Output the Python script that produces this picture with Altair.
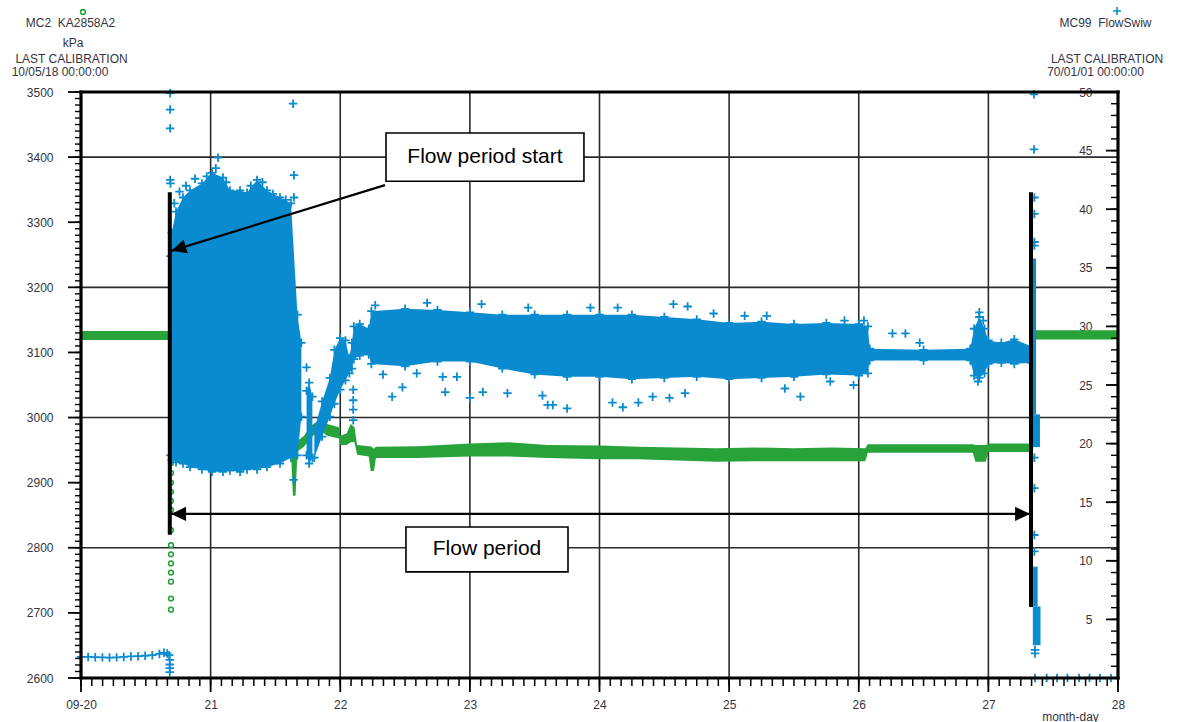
import math
import altair as alt
import pandas as pd

# ---- canvas & plot frame (pixels) ---------------------------------------------
CW, CH = 1178, 722
LEFT, TOP, RIGHT, BOTTOM = 81, 92, 1118, 678

DAY_RANGE = [20, 28]
KPA_RANGE = [2600, 3500]
FLOW_RANGE = [0, 50]

BLUE = "#0a8bd0"
GREEN = "#27a33a"
INK = "#34343f"
GRID = "#2b2b2b"
FONT = "Liberation Sans"

PLUS = "M-1,0L1,0M0,-1L0,1"
HEAD = "M0,0L-2,-0.95L-2,0.95Z"

# data units per pixel, for tick lengths and line thickness
DAY_PX = (DAY_RANGE[1] - DAY_RANGE[0]) / (RIGHT - LEFT)
KPA_PX = (KPA_RANGE[1] - KPA_RANGE[0]) / (BOTTOM - TOP)
# flow axis shares the vertical extent of the kPa axis
KPA_PER_FLOW = (KPA_RANGE[1] - KPA_RANGE[0]) / (FLOW_RANGE[1] - FLOW_RANGE[0])

# ---- axis tick / grid values ----------------------------------------------
day_ticks = list(range(20, 29))
day_minor = [20 + i / 12 for i in range(8 * 12 + 1)]
kpa_ticks = list(range(2600, 3501, 100))
kpa_minor = list(range(2600, 3501, 10))
flow_ticks = list(range(0, 51, 5))
flow_minor = list(range(0, 51, 1))
grid_days = [21, 22, 23, 24, 25, 26, 27]
grid_kpa = [2800, 3000, 3200, 3400]

# ---- KA2858A2 pressure (kPa): band envelope --------------------------------
green_seg = ["pre", "pre",
             "mid", "mid", "mid", "mid", "mid", "mid", "mid", "mid", "mid", "mid",
             "mid", "mid", "mid", "mid", "mid", "mid", "mid", "mid", "mid", "mid",
             "mid", "mid", "mid", "mid", "mid", "mid", "mid", "mid", "mid", "mid",
             "mid", "mid", "mid", "mid", "mid", "mid", "mid", "mid", "mid", "mid",
             "mid", "mid",
             "post", "post"]
green_day = [20.0, 20.685,
             20.690, 20.750, 20.800, 21.000, 21.300, 21.500, 21.620, 21.635, 21.655, 21.670,
             21.720, 21.780, 21.840, 21.900, 21.990, 22.000, 22.050, 22.080, 22.110, 22.130,
             22.220, 22.235, 22.260, 22.275, 22.600, 23.000, 23.300, 23.600, 24.000, 24.300,
             24.600, 24.900, 25.200, 25.500, 25.800, 26.050, 26.070, 26.880, 26.900, 26.980,
             27.000, 27.340,
             27.345, 28.0]
green_lo = [3119, 3119,
            2935, 2938, 2938, 2938, 2940, 2948, 2946, 2880, 2880, 2948,
            2955, 2970, 2980, 2972, 2968, 2958, 2958, 2962, 2962, 2943,
            2940, 2918, 2918, 2938, 2938, 2940, 2940, 2938, 2936, 2936,
            2934, 2932, 2933, 2933, 2933, 2933, 2946, 2946, 2932, 2932,
            2947, 2947,
            3120, 3120]
green_hi = [3133, 3133,
            2975, 2962, 2955, 2953, 2956, 2968, 2966, 2960, 2960, 2964,
            2972, 2988, 2997, 2990, 2985, 2972, 2976, 2990, 2985, 2958,
            2956, 2956, 2952, 2955, 2956, 2960, 2962, 2958, 2957, 2955,
            2954, 2953, 2954, 2953, 2954, 2953, 2959, 2959, 2958, 2958,
            2960, 2960,
            3134, 3134]

# pressure drop samples logged as the flow period starts
drop_day = [20.694] * 14
drop_kpa = [2705, 2722, 2748, 2762, 2776, 2790, 2804, 2827, 2858, 2872, 2886, 2900, 2915, 2930]

# ---- FlowSwiw flow: dense band envelope -------------------------------------
blue_seg = (["blob"] * 17 + ["col"] * 3 + ["band"] * 38)
blue_day = [20.690, 20.700, 20.733, 20.787, 20.841, 20.933, 21.011, 21.095, 21.149, 21.227,
            21.281, 21.358, 21.435, 21.535, 21.620, 21.670, 21.700,
            21.740, 21.760, 21.785,
            21.800, 21.860, 21.920, 21.955, 22.000, 22.040, 22.070, 22.090, 22.105, 22.150,
            22.220, 22.240, 22.500, 22.750, 23.000, 23.250, 23.500, 23.750, 24.000, 24.250,
            24.500, 24.750, 25.000, 25.250, 25.500, 25.750, 26.000, 26.070, 26.085, 26.500,
            26.860, 26.890, 26.930, 26.970, 27.000, 27.100, 27.200, 27.330]
blue_lo = [19.0, 18.6, 18.4, 18.3, 18.0, 17.8, 17.6, 17.6, 17.7, 17.6,
           17.8, 17.8, 18.0, 18.3, 18.8, 19.0, 22.3,
           19.0, 18.3, 18.8,
           18.8, 20.6, 22.3, 23.4, 24.6, 25.4, 26.0, 26.4, 27.2, 27.5,
           27.6, 26.8, 26.6, 27.0, 27.0, 26.4, 25.9, 25.7, 25.7, 25.5,
           25.6, 25.7, 25.5, 25.6, 25.7, 25.9, 25.8, 26.0, 27.1, 27.1,
           27.1, 25.8, 25.6, 26.0, 26.8, 26.9, 26.8, 26.9]
blue_hi = [36.0, 38.0, 39.8, 41.0, 41.6, 42.2, 43.1, 42.7, 41.6, 41.6,
           41.4, 42.5, 41.6, 41.0, 40.5, 31.0, 28.6,
           24.5, 25.2, 24.0,
           21.2, 23.6, 25.6, 28.0, 29.0, 28.8, 27.3, 28.6, 30.0, 30.2,
           29.8, 31.3, 31.5, 31.4, 31.2, 31.0, 31.0, 31.0, 31.0, 31.0,
           30.8, 30.6, 30.3, 30.4, 30.2, 30.3, 30.2, 30.0, 28.1, 28.0,
           28.1, 29.8, 30.8, 29.8, 28.8, 28.6, 28.9, 28.3]

# dense column when the flow is stopped: day from/to, flow from/to
stop_d0 = [27.343, 27.343, 27.345, 27.343]
stop_d1 = [27.368, 27.398, 27.380, 27.402]
stop_f0 = [22.5, 19.7, 6.1, 2.8]
stop_f1 = [35.8, 22.5, 9.5, 6.1]

# individual flow samples
pre_day = [20.000, 20.055, 20.110, 20.165, 20.220, 20.275, 20.330, 20.385, 20.440, 20.495,
           20.550, 20.605, 20.640, 20.665, 20.680, 20.685, 20.685, 20.685, 20.685]
pre_flow = [1.80, 1.80, 1.78, 1.76, 1.74, 1.76, 1.80, 1.84, 1.86, 1.90,
            1.95, 2.05, 2.15, 2.10, 1.95, 1.55, 1.15, 0.85, 0.50]

# samples scattered along the top of the start-up burst
burst_day = [20.720, 20.760, 20.810, 20.880, 20.970, 21.040, 21.120, 21.190, 21.310, 21.400,
             21.480, 21.580]
burst_flow = [40.5, 41.5, 42.0, 42.6, 42.8, 43.5, 42.3, 41.2, 42.0, 42.3,
              41.3, 40.8]

scatter_day = [20.688, 20.688, 20.688, 20.688, 20.690, 21.057, 21.636, 21.643, 21.643,
               21.640, 21.640, 21.740, 22.100, 22.100, 22.100, 22.100,
               22.33, 22.40, 22.48, 22.59, 22.79, 22.81, 22.90, 23.00, 23.10, 23.29,
               23.56, 23.60, 23.64, 23.75, 24.10, 24.18, 24.30, 24.41, 24.54, 24.66,
               25.43, 25.55, 25.78, 25.96,
               22.27, 22.67, 23.09, 23.45, 23.93, 24.14, 24.57, 24.68, 24.88, 25.12,
               25.29, 25.89, 26.04, 26.26, 26.36, 26.47, 26.93, 26.96, 26.92,
               27.352, 27.352, 27.355, 27.355, 27.355, 27.355, 27.355, 27.355, 27.355,
               27.355, 27.360, 27.360]
scatter_flow = [49.9, 48.5, 46.9, 42.5, 42.2, 44.4, 49.0, 42.9, 41.0,
                19.2, 16.9, 26.5, 24.6, 23.7, 22.9, 22.0,
                25.9, 24.0, 24.8, 26.0, 25.7, 24.4, 25.7, 23.9, 24.4, 24.3,
                24.1, 23.3, 23.3, 23.0, 23.5, 23.1, 23.5, 24.0, 23.9, 24.3,
                24.7, 24.0, 25.3, 25.0,
                31.8, 32.0, 31.9, 31.6, 31.6, 31.6, 31.9, 31.7, 31.1, 30.9,
                30.9, 30.5, 30.5, 29.4, 29.4, 28.6, 31.2, 30.5, 25.3,
                49.8, 45.1, 41.0, 39.6, 37.2, 36.9, 18.8, 16.2, 12.2,
                10.8, 2.4, 2.1]

zero_day = [27.360, 27.450, 27.530, 27.610, 27.700, 27.780, 27.860, 27.946]
zero_flow = [0, 0, 0, 0, 0, 0, 0, 0]

# ---- annotations (day, kPa) -------------------------------------------------
marker_day = [20.685, 27.329]
marker_top = [3346, 3346]
marker_bot = [2820, 2709]

period_kpa = 2852
period_left, period_right = 20.695, 27.322
start_tail = (22.345, 3357)
start_tip = (20.697, 3256)

box_label = ["Flow period start", "Flow period"]
box_d0 = [22.353, 22.507]
box_d1 = [23.880, 23.757]
box_k0 = [3363, 2763]
box_k1 = [3437, 2832]

# ---- scales & axes (the view spans the whole canvas) -------------------------
xs = alt.Scale(domain=DAY_RANGE, range=[LEFT, RIGHT], nice=False, zero=False)
ks = alt.Scale(domain=KPA_RANGE, range=[BOTTOM, TOP], nice=False, zero=False)
fs = alt.Scale(domain=FLOW_RANGE, range=[BOTTOM, TOP], nice=False, zero=False)

lab = dict(labelFont=FONT, labelFontSize=12, labelColor=INK, labelOverlap=False,
           domain=False, grid=False, ticks=False)

ax_x = alt.Axis(orient="bottom", offset=BOTTOM - CH, values=day_ticks,
                labelExpr="datum.value == 20 ? '09-20' : '' + datum.value",
                labelPadding=21, labelFlush=False,
                title="month-day", titleX=1070, titleY=38, titleFont=FONT, titleFontSize=12,
                titleFontWeight="normal", titleColor=INK, titleBaseline="middle",
                titleAlign="center", **lab)
ax_k = alt.Axis(orient="left", offset=-LEFT, values=kpa_ticks, format="d",
                labelPadding=28, title=None, **lab)
ax_f = alt.Axis(orient="left", offset=-RIGHT, values=flow_ticks, labelPadding=26,
                labelExpr="datum.value == 0 ? '' : '' + datum.value", title=None, **lab)


def X(field, axis=None):
    return alt.X(field, type="quantitative", scale=xs, axis=axis)


def YK(field, axis=None):
    return alt.Y(field, type="quantitative", scale=ks, axis=axis)


def YF(field, axis=None):
    return alt.Y(field, type="quantitative", scale=fs, axis=axis)


# ---- tables --------------------------------------------------------------------
green_df = pd.DataFrame({"seg": green_seg, "day": green_day, "lo": green_lo, "hi": green_hi})
drop_df = pd.DataFrame({"day": drop_day, "kpa": drop_kpa})
blue_df = pd.DataFrame({"seg": blue_seg, "day": blue_day, "lo": blue_lo, "hi": blue_hi})
stop_df = pd.DataFrame({"d0": stop_d0, "d1": stop_d1, "f0": stop_f0, "f1": stop_f1})
flow_pts = pd.DataFrame({
    "day": pre_day + burst_day + scatter_day + zero_day + blue_day + blue_day,
    "flow": pre_flow + burst_flow + scatter_flow + zero_flow + blue_lo + blue_hi,
})

marker_df = pd.DataFrame({"day": marker_day, "top": marker_top, "bot": marker_bot})
arrow_df = pd.DataFrame({
    "d0": [period_left, start_tail[0]],
    "k0": [period_kpa, start_tail[1]],
    "d1": [period_right, start_tip[0]],
    "k1": [period_kpa, start_tip[1]],
})


def screen_angle(tail, tip):
    dx = (tip[0] - tail[0]) / DAY_PX
    dy = -(tip[1] - tail[1]) / KPA_PX
    return math.degrees(math.atan2(dy, dx)) % 360


head_df = pd.DataFrame({
    "day": [period_left, period_right, start_tip[0]],
    "kpa": [period_kpa, period_kpa, start_tip[1]],
    "angle": [180.0, 0.0, screen_angle(start_tail, start_tip)],
})
box_df = pd.DataFrame({"label": box_label, "d0": box_d0, "d1": box_d1, "k0": box_k0, "k1": box_k1})
box_df["dc"] = (box_df["d0"] + box_df["d1"]) / 2
box_df["kc"] = (box_df["k0"] + box_df["k1"]) / 2
vgrid_df = pd.DataFrame({"day": grid_days, "k0": KPA_RANGE[0], "k1": KPA_RANGE[1]})
hgrid_df = pd.DataFrame({"kpa": grid_kpa, "d0": DAY_RANGE[0], "d1": DAY_RANGE[1]})
one = pd.DataFrame({"n": [0]})

d0, d1 = DAY_RANGE
k0, k1 = KPA_RANGE

# ---- frame and tick marks: one table of thin filled bars (day / kPa units) ---
bars = {"a": [], "b": [], "c": [], "e": []}


def add_bar(a, b, c, e):
    bars["a"].append(a)
    bars["b"].append(b)
    bars["c"].append(c)
    bars["e"].append(e)


FR = 1.6  # half thickness of the frame, px
add_bar(d0 - FR * DAY_PX, d0 + FR * DAY_PX, k0 - FR * KPA_PX, k1 + FR * KPA_PX)
add_bar(d1 - FR * DAY_PX, d1 + FR * DAY_PX, k0 - FR * KPA_PX, k1 + FR * KPA_PX)
add_bar(d0 - FR * DAY_PX, d1 + FR * DAY_PX, k0 - FR * KPA_PX, k0 + FR * KPA_PX)
add_bar(d0 - FR * DAY_PX, d1 + FR * DAY_PX, k1 - FR * KPA_PX, k1 + FR * KPA_PX)


def add_ticks(values, side, length, width):
    hw = width / 2
    for v in values:
        if side == "bottom":
            add_bar(v - hw * DAY_PX, v + hw * DAY_PX, k0 - length * KPA_PX, k0)
        elif side == "left":
            add_bar(d0 - length * DAY_PX, d0, v - hw * KPA_PX, v + hw * KPA_PX)
        else:
            kv = k0 + v * KPA_PER_FLOW
            add_bar(d1 - length * DAY_PX, d1, kv - hw * KPA_PX, kv + hw * KPA_PX)


add_ticks(day_minor, "bottom", 8, 1.5)
add_ticks(day_ticks, "bottom", 14, 1.8)
add_ticks(kpa_minor, "left", 6, 1.4)
add_ticks(kpa_ticks, "left", 13, 1.8)
add_ticks(flow_minor, "right", 7, 1.4)
add_ticks(flow_ticks, "right", 12, 1.8)
bars_df = pd.DataFrame(bars)

# ---- layers --------------------------------------------------------------------
vgrid = alt.Chart(vgrid_df).mark_rule(color=GRID, strokeWidth=1.6).encode(
    x=X("day", ax_x), y=YK("k0"), y2="k1")
hgrid = alt.Chart(hgrid_df).mark_rule(color=GRID, strokeWidth=1.6).encode(
    y=YK("kpa", ax_k), x=X("d0"), x2="d1")

green_band = alt.Chart(green_df).mark_area(color=GREEN, opacity=1).encode(
    x=X("day"), y=YK("lo"), y2="hi", detail="seg:N")
green_drop = alt.Chart(drop_df).mark_point(shape="circle", filled=False, color=GREEN, size=22,
                                           strokeWidth=1.6, opacity=1).encode(
    x=X("day"), y=YK("kpa"))

blue_band = alt.Chart(blue_df).mark_area(color=BLUE, opacity=1).encode(
    x=X("day"), y=YF("lo", ax_f), y2="hi", detail="seg:N")
blue_stop = alt.Chart(stop_df).mark_rect(color=BLUE, opacity=1).encode(
    x=X("d0"), x2="d1", y=YF("f0"), y2="f1")
blue_pts = alt.Chart(flow_pts).mark_point(shape=PLUS, filled=False, color=BLUE, size=72,
                                          strokeWidth=1.8, opacity=1).encode(
    x=X("day"), y=YF("flow"))

frame_ticks = alt.Chart(bars_df).mark_rect(color="black", opacity=1).encode(
    x=X("a"), x2="b", y=YK("c"), y2="e")

markers = alt.Chart(marker_df).mark_rule(color="black", strokeWidth=4).encode(
    x=X("day"), y=YK("top"), y2="bot")
arrows = alt.Chart(arrow_df).mark_rule(color="black", strokeWidth=2.2).encode(
    x=X("d0"), y=YK("k0"), x2="d1", y2="k1")
heads = alt.Chart(head_df).mark_point(shape=HEAD, filled=True, color="black", size=225,
                                      opacity=1, strokeWidth=0).encode(
    x=X("day"), y=YK("kpa"), angle=alt.Angle("angle:Q", scale=None))
boxes = alt.Chart(box_df).mark_rect(fill="white", stroke="black", strokeWidth=1.6).encode(
    x=X("d0"), x2="d1", y=YK("k0"), y2="k1")
box_text = alt.Chart(box_df).mark_text(font=FONT, fontSize=21, color="black", align="center",
                                       baseline="middle").encode(
    x=X("dc"), y=YK("kc"), text="label:N")


def head_text(txt, x, y):
    return alt.Chart(one).mark_text(text=txt, font=FONT, fontSize=12, color=INK, align="center",
                                    baseline="middle").encode(x=alt.value(x), y=alt.value(y))


nb = "\u00a0"
header = [
    head_text(f"MC2{nb}{nb}KA2858A2", 70.5, 23),
    head_text("kPa", 73, 43),
    head_text("LAST CALIBRATION", 71.5, 59),
    head_text("10/05/18 00:00:00", 60, 72),
    head_text(f"MC99{nb}{nb}FlowSwiw", 1105.5, 23),
    head_text("LAST CALIBRATION", 1107, 59),
    head_text("70/01/01 00:00:00", 1095.5, 72),
    alt.Chart(one).mark_point(shape="circle", filled=False, color=GREEN, size=22, strokeWidth=1.6,
                              opacity=1).encode(x=alt.value(83), y=alt.value(12)),
    alt.Chart(one).mark_point(shape=PLUS, filled=False, color=BLUE, size=64, strokeWidth=1.6,
                              opacity=1).encode(x=alt.value(1117), y=alt.value(11)),
]

chart = alt.layer(
    vgrid, hgrid, green_band, green_drop, blue_band, blue_stop, blue_pts, frame_ticks,
    markers, arrows, heads, boxes, box_text, *header,
).resolve_scale(
    x="independent", y="independent"
).properties(
    width=CW, height=CH, padding=0, autosize="none", background="white"
).configure_view(strokeWidth=0)

chart.save("out.html", embed_options={"renderer": "svg", "actions": False})
